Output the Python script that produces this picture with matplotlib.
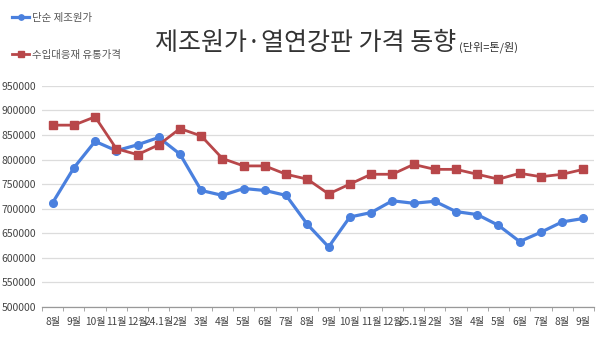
import matplotlib
matplotlib.use("Agg")
import matplotlib.pyplot as plt
from matplotlib.ticker import FixedLocator
import numpy as np

plt.rcParams['font.family'] = ['Noto Sans CJK KR', 'DejaVu Sans']

months = ['8월', '9월', '10월', '11월', '12월', '24.1월', '2월', '3월', '4월', '5월', '6월', '7월', '8월',
          '9월', '10월', '11월', '12월', '25.1월', '2월', '3월', '4월', '5월', '6월', '7월', '8월', '9월']

# 단순 제조원가
cost = [712000, 783000, 837000, 818000, 830000, 845000, 811000, 737000, 727000, 741000, 737000, 727000, 668000,
        622000, 683000, 692000, 716000, 711000, 715000, 694000, 688000, 666000, 633000, 652000, 673000, 680000]
# 수입대응재 유통가격
import_price = [870000, 870000, 887000, 822000, 810000, 830000, 863000, 848000, 802000, 787000, 787000, 770000, 760000,
                730000, 750000, 770000, 770000, 790000, 780000, 780000, 770000, 760000, 772000, 765000, 770000, 780000]

yticks = list(range(500000, 950001, 50000))

blue = '#4A80DE'
red = '#B8474A'

fig = plt.figure(figsize=(6, 3.38), dpi=100)
ax = fig.add_axes([0.07, 0.092, 0.92, 0.654])

x = np.arange(len(months))
ax.plot(x, cost, color=blue, lw=2.3, marker='o', ms=5.5, label='단순 제조원가', zorder=3)
ax.plot(x, import_price, color=red, lw=2.0, marker='s', ms=6, label='수입대응재 유통가격', zorder=3)

ax.set_xlim(-0.5, len(months) - 0.5)
ax.set_ylim(500000, 950000)
ax.set_yticks(yticks)
ax.set_yticklabels([str(v) for v in yticks])
ax.yaxis.grid(True, color='#dcdcdc', lw=0.9)
ax.set_axisbelow(True)

ax.set_xticks(x)
ax.set_xticklabels(months)
ax.xaxis.set_minor_locator(FixedLocator(np.arange(-0.5, len(months), 1.0)))
ax.tick_params(axis='x', which='major', length=0, pad=7, labelsize=7.3, colors='#444444')
ax.tick_params(axis='x', which='minor', length=3, color='#999999', direction='out')
ax.tick_params(axis='y', length=0, labelsize=7.5, colors='#444444', pad=4)

for side in ['left', 'right', 'top']:
    ax.spines[side].set_visible(False)
ax.spines['bottom'].set_color('#999999')
ax.spines['bottom'].set_linewidth(0.9)

leg = fig.legend(loc='upper left', bbox_to_anchor=(0.005, 0.99), frameon=False, fontsize=7.5,
                 handlelength=1.6, handletextpad=0.3, labelspacing=2.6, markerscale=0.7)
for t in leg.get_texts():
    t.set_color('#555555')

fig.text(0.258, 0.852, '제조원가·열연강판 가격 동향', fontsize=18, color='#333333', ha='left', va='baseline')
fig.text(0.765, 0.852, '(단위=톤/원)', fontsize=8, color='#333333', ha='left', va='baseline')

fig.savefig('out.png', dpi=100, facecolor='white')
